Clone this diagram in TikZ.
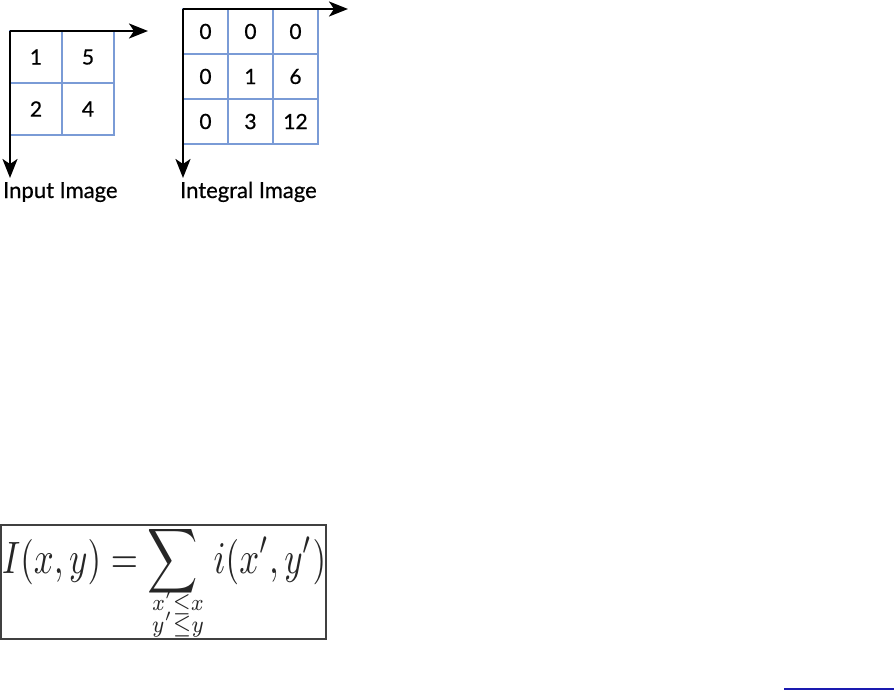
\documentclass[tikz,border=0pt]{standalone}
\usepackage{amsmath}
\usepackage{graphicx}
\usepackage{fontspec}
\newfontfamily\labelfont[FakeBold=0.6]{Lato}
\usetikzlibrary{arrows.meta}
\definecolor{gridblue}{HTML}{7A9BD6}
\definecolor{lineblue}{HTML}{1A1AB0}
\tikzset{
  cellA/.style={draw=gridblue, line width=1.8pt, minimum size=52pt, inner sep=0pt, font=\labelfont\fontsize{21}{24}\selectfont},
  cellB/.style={draw=gridblue, line width=1.8pt, minimum size=45pt, inner sep=0pt, font=\labelfont\fontsize{21}{24}\selectfont},
  axis/.style={line width=2.4pt, -{Stealth[length=19pt,width=15pt,inset=5pt]}},
  caption/.style={font=\labelfont\fontsize{22}{26}\selectfont, inner sep=0pt, anchor=base west},
  formulatext/.style={inner sep=0pt, text=black!85}
}
\begin{document}
\begin{tikzpicture}[x=1pt,y=-1pt]
\useasboundingbox (0,0) rectangle (894,690);
% input image grid
\node[cellA] (a11) at (36,57) {1};
\node[cellA] (a12) at (88,57) {5};
\node[cellA] (a21) at (36,109) {2};
\node[cellA] (a22) at (88,109) {4};
\coordinate (oa) at (10,31);
\coordinate (ax) at (148,31);
\coordinate (ay) at (10,178);
\draw[axis] (oa) -- (ax);
\draw[axis] (oa) -- (ay);
\node[caption] (capA) at (3,198) {Input Image};
% integral image grid
\node[cellB] (b11) at (205.5,31.5) {0};
\node[cellB] (b12) at (250.5,31.5) {0};
\node[cellB] (b13) at (295.5,31.5) {0};
\node[cellB] (b21) at (205.5,76.5) {0};
\node[cellB] (b22) at (250.5,76.5) {1};
\node[cellB] (b23) at (295.5,76.5) {6};
\node[cellB] (b31) at (205.5,121.5) {0};
\node[cellB] (b32) at (250.5,121.5) {3};
\node[cellB] (b33) at (295.5,121.5) {12};
\coordinate (ob) at (183,9);
\coordinate (bx) at (348,9);
\coordinate (by) at (183,178);
\draw[axis] (ob) -- (bx);
\draw[axis] (ob) -- (by);
\node[caption] (capB) at (180,198) {Integral Image};
% formula box
\begin{scope}
\clip (1,525) rectangle (326,639);
\node[formulatext, anchor=base west] (formula) at (2,573) {\scalebox{1}[1.3]{\resizebox{324pt}{!}{$\displaystyle I(x,y)=\sum\mkern5mu i(x',y')$}}};
\node[formulatext, anchor=base] (lim1) at (178,610) {\scalebox{1}[1.15]{\resizebox{52pt}{!}{$\scriptstyle x'\leq x$}}};
\node[formulatext, anchor=base] (lim2) at (178,632) {\scalebox{1}[1.15]{\resizebox{52pt}{!}{$\scriptstyle y'\leq y$}}};
\end{scope}
\draw[line width=2pt, draw=black!75] (1,525) rectangle (326,639);
% bottom line
\coordinate (l1) at (784,689);
\coordinate (l2) at (894,689);
\draw[lineblue, line width=2pt] (l1) -- (l2);
\end{tikzpicture}
\end{document}
